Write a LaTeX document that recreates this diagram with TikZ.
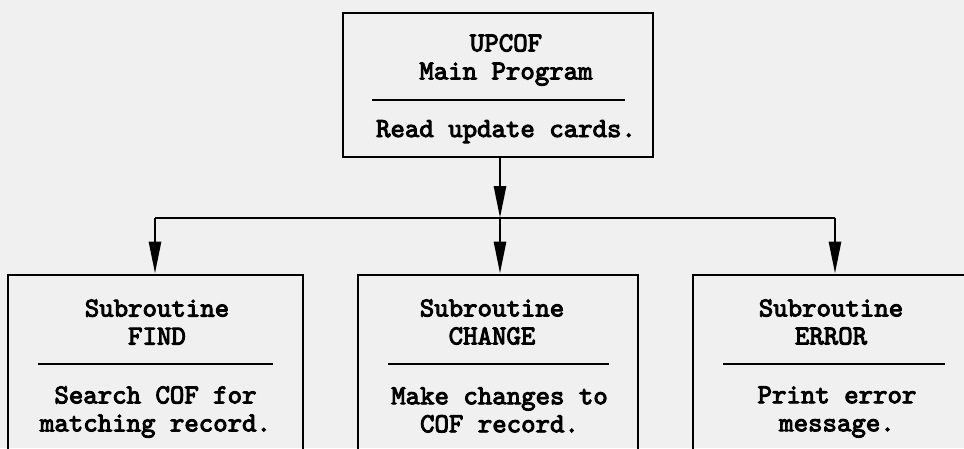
\documentclass[tikz,border=0pt]{standalone}
\usepackage{fontspec}
\newfontfamily\typefont{lmmono10-regular}[Extension=.otf, FakeBold=3.5]
\usetikzlibrary{arrows.meta}
\begin{document}
\begin{tikzpicture}[x=1pt, y=-1pt, line width=2.8pt,
		box/.style={draw, rectangle, inner sep=0pt},
		txt/.style={font=\typefont\fontsize{27.5}{28}\selectfont, align=center, inner sep=0pt},
		arr/.style={-{Triangle[length=32pt,width=12pt]}}]
		\useasboundingbox (0,0) rectangle (964,448);
		\fill[black!6] (0,0) rectangle (964,448);
		
		\node[box, minimum width=310pt, minimum height=144pt] (main) at (498, 85) {};
		\node[box, minimum width=295pt, minimum height=190pt] (find) at (155.5, 370) {};
		\node[box, minimum width=280pt, minimum height=190pt] (change) at (498, 370) {};
		\node[box, minimum width=285pt, minimum height=190pt] (error) at (835.5, 370) {};
		
		\node[txt] (mainname) at (506, 60) {UPCOF\\Main Program};
		\node[txt, anchor=base] (maintask) at (506, 137) {Read update cards.};
		\node[txt] (findname) at (157, 322) {Subroutine\\FIND};
		\node[txt] (findtask) at (155.5, 412) {Search COF for\\matching record.};
		\node[txt] (changename) at (492, 322) {Subroutine\\CHANGE};
		\node[txt] (changetask) at (499.5, 410) {Make changes to\\COF record.};
		\node[txt] (errorname) at (831, 322) {Subroutine\\ERROR};
		\node[txt] (errortask) at (837, 412) {Print error\\message.};
		
		\draw (372, 100) -- (625, 100);
		\draw (38, 364) -- (273, 364);
		\draw (388, 364) -- (609, 364);
		\draw (723, 364) -- (945, 364);
		
		\coordinate (split) at (500, 218);
		\coordinate (left) at (155, 218);
		\coordinate (right) at (835, 218);
		
		\draw[arr] (split |- main.south) -- (split);
		\draw[arr] (split) -- (split |- change.north);
		\draw (left) -- (right);
		\draw[arr] (left) -- (left |- find.north);
		\draw[arr] (right) -- (right |- error.north);
\end{tikzpicture}
\end{document}
